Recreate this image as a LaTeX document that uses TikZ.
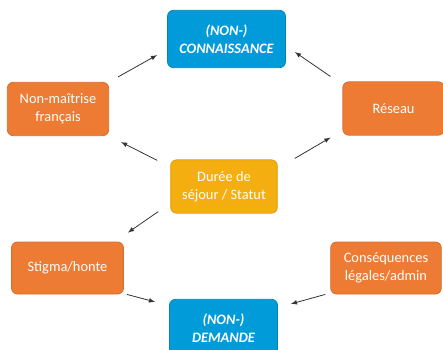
\documentclass[tikz,border=0pt]{standalone}
\usepackage{fontspec}
\setmainfont{Carlito}
\usepackage{tikz}
\usetikzlibrary{arrows,positioning}

\definecolor{bleu}{HTML}{009BD8}
\definecolor{orange}{HTML}{EE7B33}
\definecolor{jaune}{HTML}{F5AE10}

\begin{document}
\begin{tikzpicture}[x=0.75pt,y=-0.75pt,
  boite/.style={rounded corners=4.5pt, text=white, align=center, font=\fontsize{10.8}{13.5}\selectfont, line width=0.6pt, inner sep=0pt},
  bleue/.style={boite, fill=bleu, draw=bleu!85!black, font=\fontsize{10.8}{13.5}\selectfont\bfseries\itshape},
  oran/.style={boite, fill=orange, draw=orange!90!black},
  jaun/.style={boite, fill=jaune, draw=jaune!90!black},
  fl/.style={-latex, line width=0.6pt, black!80}]
\useasboundingbox (0,0) rectangle (443,350);

\node[bleue, minimum width=88.5pt, minimum height=43pt] (con) at (226.5,39) {(NON-)\\CONNAISSANCE};
\node[oran, minimum width=76pt, minimum height=40pt] (nm) at (58,109) {Non-maîtrise\\français};
\node[oran, minimum width=76pt, minimum height=40pt] (res) at (393.5,108.5) {Réseau};
\node[jaun, minimum width=80pt, minimum height=40pt] (dur) at (224,186.5) {Durée de\\séjour / Statut};
\node[oran, minimum width=84pt, minimum height=39pt] (stig) at (67.5,268) {Stigma/honte};
\node[oran, minimum width=83pt, minimum height=39pt] (cons) at (386,268) {Conséquences\\légales/admin};
\node[bleue, minimum width=81pt, minimum height=43pt] (dem) at (223.5,328) {(NON-)\\DEMANDE};

\draw[fl] ([shift={(9,-5)}]nm.north east) -- ([shift={(-10,-13)}]con.south west);
\draw[fl] ([shift={(-12,-5)}]res.north west) -- ([shift={(9,-16)}]con.south east);
\draw[fl] ([shift={(-13,1)}]dur.north west) -- ([shift={(12,6)}]nm.south east);
\draw[fl] ([shift={(17,-1)}]dur.north east) -- ([shift={(-12,2)}]res.south west);
\draw[fl] ([shift={(-12,-2)}]dur.south west) -- ([shift={(4,-9)}]stig.north east);
\draw[fl] ([shift={(3,0)}]stig.south east) -- ([shift={(-14,3)}]dem.north west);
\draw[fl] ([shift={(-5,0)}]cons.south west) -- ([shift={(13,5)}]dem.north east);
\end{tikzpicture}
\end{document}
